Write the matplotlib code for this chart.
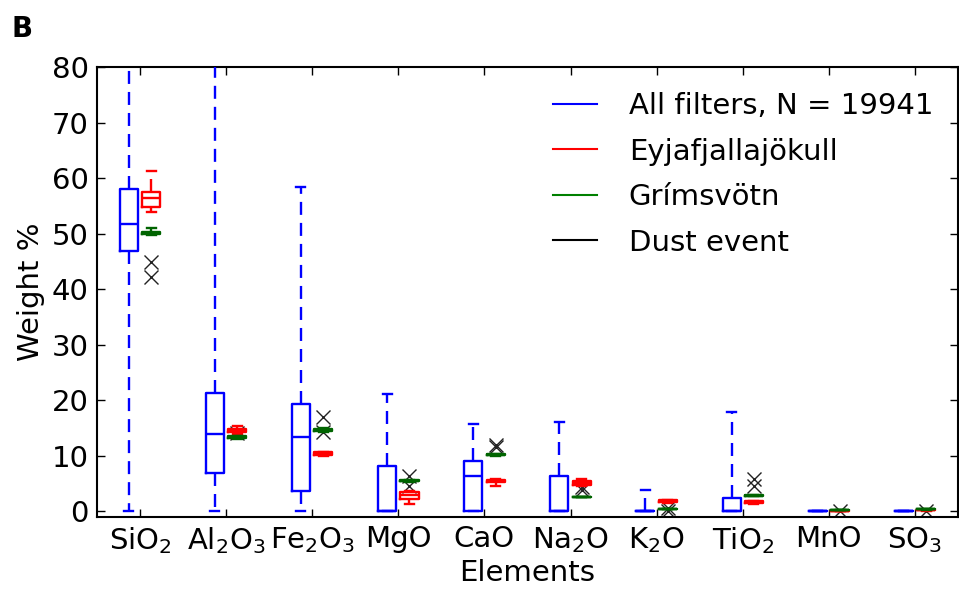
import matplotlib
matplotlib.use("Agg")
import matplotlib.pyplot as plt
from matplotlib.lines import Line2D

plt.rcParams['mathtext.default'] = 'regular'
plt.rcParams['font.family'] = ['DejaVu Sans']

elements = ['SiO$_2$', 'Al$_2$O$_3$', 'Fe$_2$O$_3$', 'MgO', 'CaO', 'Na$_2$O',
            'K$_2$O', 'TiO$_2$', 'MnO', 'SO$_3$']

# box stats: (whislo, q1, med, q3, whishi)
all_filters = [
    (0.0, 46.9, 51.7, 58.1, 82.0),
    (0.0, 6.9, 13.9, 21.4, 82.0),
    (0.0, 3.7, 13.4, 19.3, 58.4),
    (0.0, 0.0, 0.0, 8.1, 21.1),
    (0.0, 0.0, 6.4, 9.0, 15.7),
    (0.0, 0.0, 0.0, 6.4, 16.0),
    (0.0, 0.0, 0.0, 0.0, 3.9),
    (0.0, 0.0, 0.0, 2.4, 17.8),
    (0.0, 0.0, 0.0, 0.0, 0.0),
    (0.0, 0.0, 0.0, 0.0, 0.0),
]
eyjafjallajokull = [
    (53.9, 54.8, 56.5, 57.5, 61.3),
    (14.0, 14.3, 14.6, 14.9, 15.3),
    (10.0, 10.1, 10.3, 10.6, 10.7),
    (1.35, 2.3, 3.0, 3.4, 3.7),
    (4.5, 5.2, 5.4, 5.7, 5.8),
    (4.6, 4.8, 5.1, 5.5, 5.8),
    (1.5, 1.6, 1.8, 2.0, 2.1),
    (1.4, 1.5, 1.6, 1.8, 1.9),
    (0.0, 0.0, 0.0, 0.0, 0.0),
    (0.1, 0.15, 0.2, 0.25, 0.3),
]
grimsvotn = [
    (49.8, 50.0, 50.2, 50.4, 51.0),
    (13.1, 13.2, 13.3, 13.5, 13.6),
    (14.3, 14.5, 14.7, 14.9, 15.0),
    (5.3, 5.4, 5.5, 5.6, 5.7),
    (10.0, 10.1, 10.2, 10.3, 10.4),
    (2.5, 2.5, 2.55, 2.6, 2.6),
    (0.4, 0.4, 0.45, 0.5, 0.5),
    (2.7, 2.75, 2.8, 2.9, 2.95),
    (0.15, 0.18, 0.2, 0.22, 0.25),
    (0.3, 0.35, 0.4, 0.45, 0.5),
]
# dust event sample values (plotted as black x markers)
dust_elem = [1, 1, 2, 3, 3, 4, 4, 5, 5, 6, 6, 7, 7, 8, 8, 9, 10]
dust_vals = [45.0, 42.3, 14.1, 16.9, 14.3, 6.3, 4.5, 12.0, 11.5, 4.4, 3.8,
             0.6, 0.05, 5.8, 4.5, 0.1, 0.1]


def to_stats(rows):
    return [dict(whislo=r[0], q1=r[1], med=r[2], q3=r[3], whishi=r[4], fliers=[])
            for r in rows]


fig = plt.figure(figsize=(9.59, 5.90), dpi=100)
ax = fig.add_axes([0.101, 0.124, 0.898, 0.762])

pos = list(range(1, len(elements) + 1))
off = 0.13
w = 0.21
dash = (0, (5.5, 3.4))


def draw(stats, positions, color, z):
    lw = 1.7
    ax.bxp(to_stats(stats), positions=positions, widths=w, showfliers=False,
           boxprops=dict(color=color, lw=lw),
           medianprops=dict(color=color, lw=lw),
           whiskerprops=dict(color=color, lw=lw, linestyle=dash),
           capprops=dict(color=color, lw=lw), manage_ticks=False,
           zorder=z)


# dust event markers
ax.plot([p + off for p in dust_elem], dust_vals, linestyle='none', marker='x',
        color='#222222', markersize=10, mew=1.0, zorder=2)
draw(all_filters, [p - off for p in pos], 'blue', 3)
draw(eyjafjallajokull, [p + off for p in pos], 'red', 3)
draw(grimsvotn, [p + off for p in pos], 'darkgreen', 4)

fs = 21
ax.set_xlim(0.5, 10.5)
ax.set_ylim(-1, 80)
ax.set_xticks(pos)
ax.set_xticklabels(elements, fontsize=fs)
ax.set_yticks(range(0, 81, 10))
ax.tick_params(axis='y', labelsize=fs)
ax.tick_params(direction='in', length=6, width=1, top=True, right=True, pad=6)
for s in ax.spines.values():
    s.set_linewidth(1.5)
ax.set_ylabel('Weight %', fontsize=fs, labelpad=5)
ax.set_xlabel('Elements', fontsize=fs, labelpad=2)

handles = [Line2D([], [], color='blue', lw=1.5), Line2D([], [], color='red', lw=1.5),
           Line2D([], [], color='green', lw=1.5), Line2D([], [], color='black', lw=1.5)]
labels = ['All filters, N = 19941', 'Eyjafjallajökull', 'Grímsvötn', 'Dust event']
ax.legend(handles, labels, loc='upper right', frameon=False, fontsize=fs,
          handlelength=1.5, handletextpad=1.1, labelspacing=0.6,
          borderaxespad=0.45)

fig.text(0.012, 0.975, 'B', fontsize=20, fontweight='bold', va='top', ha='left')

fig.savefig('out.png', dpi=100)
